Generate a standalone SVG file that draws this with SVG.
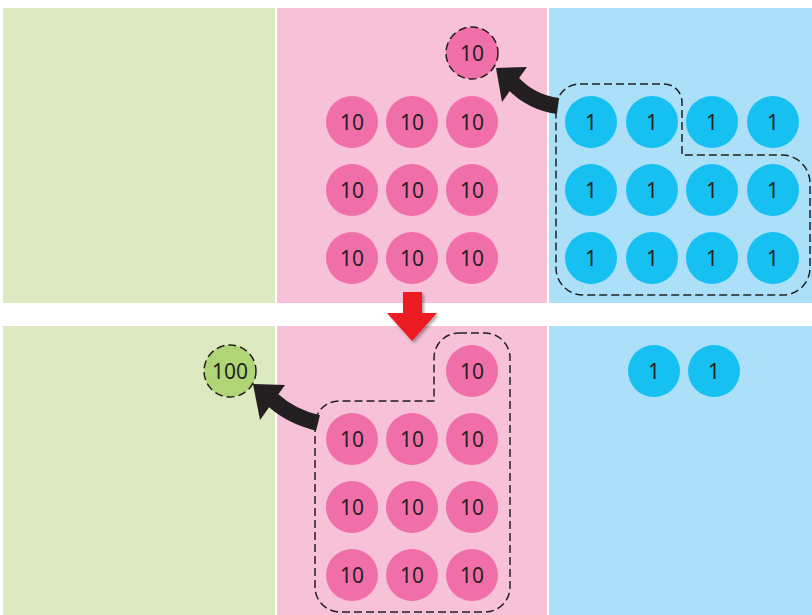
<svg xmlns="http://www.w3.org/2000/svg" width="812" height="615" viewBox="0 0 812 615">
<defs>
<style>
.g{fill:#DCE9C1}.p{fill:#F7C1D8}.b{fill:#ACE0F8}
.cp{fill:#F16FA9}.cb{fill:#16C1F2}.cg{fill:#AFD577}
.dash{fill:none;stroke:#231F20;stroke-width:1.5;stroke-dasharray:8 4}
text{font-family:"Noto Sans","Open Sans",sans-serif;font-size:21px;fill:#231F20;text-anchor:middle;dominant-baseline:central}
.arr{fill:none;stroke:#231F20;stroke-width:16}
</style>
<filter id="sh" x="-30%" y="-30%" width="160%" height="160%">
<feDropShadow dx="2" dy="2" stdDeviation="1.5" flood-color="#000" flood-opacity="0.35"/>
</filter>
</defs>
<rect width="812" height="615" fill="#fff"/>
<g id="panels">
<rect class="g" x="3" y="8" width="272" height="295"/>
<rect class="p" x="277" y="8" width="270" height="295"/>
<rect class="b" x="549" y="8" width="263" height="295"/>
<rect class="g" x="3" y="326" width="272" height="289"/>
<rect class="p" x="277" y="326" width="270" height="289"/>
<rect class="b" x="549" y="326" width="263" height="289"/>
</g>
<g id="top-tens">
<circle class="cp" cx="352" cy="122" r="26"/><text x="352" y="122">10</text>
<circle class="cp" cx="412" cy="122" r="26"/><text x="412" y="122">10</text>
<circle class="cp" cx="472" cy="122" r="26"/><text x="472" y="122">10</text>
<circle class="cp" cx="352" cy="190" r="26"/><text x="352" y="190">10</text>
<circle class="cp" cx="412" cy="190" r="26"/><text x="412" y="190">10</text>
<circle class="cp" cx="472" cy="190" r="26"/><text x="472" y="190">10</text>
<circle class="cp" cx="352" cy="258" r="26"/><text x="352" y="258">10</text>
<circle class="cp" cx="412" cy="258" r="26"/><text x="412" y="258">10</text>
<circle class="cp" cx="472" cy="258" r="26"/><text x="472" y="258">10</text>
</g>
<g id="new-ten">
<circle class="cp" cx="472" cy="53" r="26"/>
<circle class="dash" cx="472" cy="53" r="26"/>
<text x="472" y="53">10</text>
</g>
<g id="top-ones">
<circle class="cb" cx="591" cy="122" r="26"/><text x="591" y="122">1</text>
<circle class="cb" cx="652" cy="122" r="26"/><text x="652" y="122">1</text>
<circle class="cb" cx="712" cy="122" r="26"/><text x="712" y="122">1</text>
<circle class="cb" cx="773" cy="122" r="26"/><text x="773" y="122">1</text>
<circle class="cb" cx="591" cy="190" r="26"/><text x="591" y="190">1</text>
<circle class="cb" cx="652" cy="190" r="26"/><text x="652" y="190">1</text>
<circle class="cb" cx="712" cy="190" r="26"/><text x="712" y="190">1</text>
<circle class="cb" cx="773" cy="190" r="26"/><text x="773" y="190">1</text>
<circle class="cb" cx="591" cy="258" r="26"/><text x="591" y="258">1</text>
<circle class="cb" cx="652" cy="258" r="26"/><text x="652" y="258">1</text>
<circle class="cb" cx="712" cy="258" r="26"/><text x="712" y="258">1</text>
<circle class="cb" cx="773" cy="258" r="26"/><text x="773" y="258">1</text>
</g>
<g id="ones-group-outline">
<path class="dash" d="M580,84 H664 A18,18 0 0 1 682,102 V155 H782 A28,28 0 0 1 810,183 V268 A27,27 0 0 1 783,295 H583 A27,27 0 0 1 556,268 V108 A24,24 0 0 1 580,84 Z"/>
</g>
<g id="hundred">
<circle class="cg" cx="230" cy="371" r="26"/>
<circle class="dash" cx="230" cy="371" r="26"/>
<text x="230" y="371">100</text>
</g>
<g id="bottom-tens">
<circle class="cp" cx="472" cy="371" r="26"/><text x="472" y="371">10</text>
<circle class="cp" cx="352" cy="439" r="26"/><text x="352" y="439">10</text>
<circle class="cp" cx="412" cy="439" r="26"/><text x="412" y="439">10</text>
<circle class="cp" cx="472" cy="439" r="26"/><text x="472" y="439">10</text>
<circle class="cp" cx="352" cy="507" r="26"/><text x="352" y="507">10</text>
<circle class="cp" cx="412" cy="507" r="26"/><text x="412" y="507">10</text>
<circle class="cp" cx="472" cy="507" r="26"/><text x="472" y="507">10</text>
<circle class="cp" cx="352" cy="575" r="26"/><text x="352" y="575">10</text>
<circle class="cp" cx="412" cy="575" r="26"/><text x="412" y="575">10</text>
<circle class="cp" cx="472" cy="575" r="26"/><text x="472" y="575">10</text>
</g>
<g id="tens-group-outline">
<path class="dash" d="M459,333 H485 A25,25 0 0 1 510,358 V587 A25,25 0 0 1 485,612 H340 A25,25 0 0 1 315,587 V425 A24,24 0 0 1 339,401 H434 V358 A25,25 0 0 1 459,333 Z"/>
</g>
<g id="bottom-ones">
<circle class="cb" cx="654" cy="371" r="26"/><text x="654" y="371">1</text>
<circle class="cb" cx="714" cy="371" r="26"/><text x="714" y="371">1</text>
</g>
<g id="connectors">
<path class="arr" d="M558,106 Q530,102 512,82"/>
<polygon fill="#231F20" points="496,68 527,67 502,102"/>
<path class="arr" d="M318,423 Q290,416 273,400"/>
<polygon fill="#231F20" points="253,384 285,385 260,420"/>
<g filter="url(#sh)">
<polygon fill="#ED1C24" points="403,292 422,292 422,313 437,313 412,341 387,313 403,313"/>
</g>
</g>
</svg>
